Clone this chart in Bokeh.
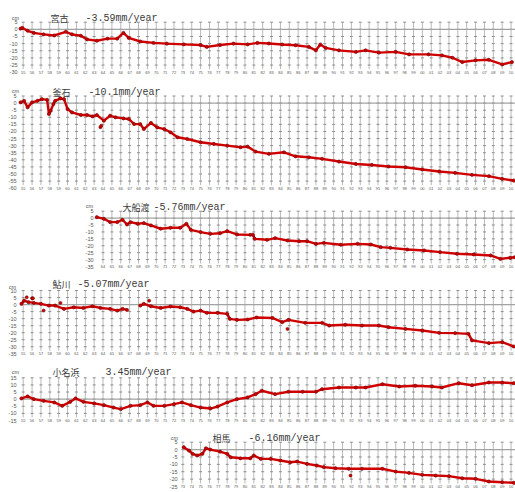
import numpy as np
from bokeh.plotting import figure
from bokeh.models import Range1d
from bokeh.core.properties import value
from bokeh.embed import file_html
from bokeh.resources import INLINE

# ---- mean sea level (cm) at six tide stations on the Sanriku / Fukushima coast ----
YEAR_TICKS = list(range(1955, 2011))
YEAR_LABELS = [f"{y % 100:02d}" for y in YEAR_TICKS]

MIYAKO_YEAR = [1954.7, 1954.9, 1955.5, 1956.2, 1957.3, 1958.5, 1959.8, 1960.5, 1961.5, 1962.2,
               1963.3, 1964.5, 1965.6, 1966.3, 1966.9, 1968.2, 1969.7, 1971.2, 1973.1, 1975.0,
               1975.7, 1977.2, 1978.7, 1980.3, 1981.4, 1982.7, 1984.2, 1985.7, 1987.2, 1988.0,
               1988.5, 1989.1, 1990.6, 1992.5, 1993.6, 1995.1, 1997.0, 1998.5, 2000.7, 2002.2,
               2003.4, 2004.5, 2006.0, 2007.5, 2009.0, 2010.1]
MIYAKO_CM = [0.5, 1.0, -1.0, -2.5, -3.5, -4.3, -1.7, -3.5, -4.5, -7.0,
             -8.0, -6.5, -6.5, -2.5, -6.0, -8.5, -9.5, -10.0, -10.5, -11.0,
             -12.3, -11.0, -10.0, -10.5, -9.5, -9.9, -10.6, -11.1, -12.3, -14.7,
             -10.6, -13.0, -14.7, -15.8, -14.7, -16.3, -15.8, -17.5, -17.5, -18.2,
             -19.9, -22.9, -21.7, -21.3, -24.6, -22.9]
MIYAKO_OUT_YEAR = []
MIYAKO_OUT_CM = []

KAMAISHI_YEAR = [1954.7, 1955.1, 1955.5, 1956.0, 1956.6, 1957.1, 1957.7, 1957.9, 1958.1, 1958.4,
                 1958.6, 1959.2, 1959.6, 1960.0, 1960.5, 1961.5, 1962.2, 1962.8, 1963.3, 1964.1,
                 1964.8, 1965.4, 1966.3, 1966.9, 1967.5, 1968.2, 1968.6, 1969.4, 1970.1, 1970.9,
                 1971.6, 1972.4, 1973.5, 1975.0, 1976.5, 1978.0, 1979.5, 1980.3, 1981.2, 1982.7,
                 1984.4, 1985.7, 1987.2, 1988.7, 1990.6, 1992.5, 1994.3, 1996.2, 1998.1, 2000.0,
                 2001.9, 2003.7, 2005.6, 2007.5, 2009.0, 2010.3]
KAMAISHI_CM = [0.5, 1.6, -3.0, 0.5, 1.6, 2.8, 2.3, -7.7, -5.4, -0.7,
               1.6, 3.3, 2.8, -4.2, -6.6, -8.4, -8.4, -9.4, -8.4, -12.4,
               -8.9, -10.0, -10.8, -11.2, -14.8, -14.8, -18.3, -14.0, -17.1, -18.3,
               -20.6, -24.1, -25.3, -27.6, -28.8, -30.0, -31.1, -30.7, -34.2, -35.8,
               -34.7, -37.5, -38.2, -39.3, -41.2, -42.9, -43.6, -44.7, -45.2, -46.8,
               -48.2, -49.2, -50.6, -51.5, -53.4, -54.6]
KAMAISHI_OUT_YEAR = [1963.7, 1963.8]
KAMAISHI_OUT_CM = [-17.0, -16.0]

OFUNATO_YEAR = [1963.3, 1964.1, 1964.8, 1965.6, 1966.2, 1966.7, 1967.1, 1967.9, 1968.6, 1969.4,
                1970.5, 1971.6, 1972.7, 1973.4, 1973.9, 1975.0, 1976.1, 1977.2, 1978.0, 1979.1,
                1980.6, 1980.9, 1981.1, 1982.5, 1983.4, 1984.8, 1986.1, 1987.0, 1988.0, 1988.9,
                1990.8, 1992.7, 1994.2, 1995.3, 1996.4, 1998.3, 2000.2, 2002.0, 2003.9, 2005.8,
                2007.7, 2008.8, 2009.9, 2010.4]
OFUNATO_CM = [0.7, -0.5, -2.9, -2.9, -1.2, -4.6, -2.9, -4.1, -3.6, -5.3,
              -7.7, -7.0, -7.0, -4.1, -8.5, -10.1, -11.4, -10.9, -9.4, -11.8,
              -12.1, -12.1, -15.0, -15.7, -14.5, -16.2, -16.7, -16.7, -18.6, -17.9,
              -19.3, -18.6, -19.1, -21.0, -21.5, -22.7, -23.4, -24.6, -25.8, -26.3,
              -27.0, -29.5, -28.7, -28.3]
OFUNATO_OUT_YEAR = []
OFUNATO_OUT_CM = []

AYUKAWA_YEAR = [1954.8, 1955.1, 1955.6, 1956.2, 1957.0, 1957.9, 1958.6, 1959.6, 1960.7, 1961.8,
                1962.8, 1963.7, 1964.8, 1965.6, 1966.2, 1966.7, 1967.4, 1968.2, 1968.6, 1969.4,
                1970.5, 1971.6, 1972.7, 1973.5, 1974.2, 1975.0, 1975.7, 1976.9, 1978.0, 1978.3,
                1979.1, 1980.3, 1981.3, 1983.1, 1984.2, 1984.9, 1986.8, 1988.7, 1989.5, 1991.3,
                1993.2, 1995.1, 1996.2, 1998.1, 2000.0, 2001.9, 2003.7, 2005.2, 2005.6, 2007.5,
                2009.0, 2010.3]
AYUKAWA_CM = [0.5, 2.8, 1.7, 1.2, 0.5, -0.7, -0.7, -3.1, -1.9, -2.4,
              -1.2, -2.4, -3.1, -4.3, -3.1, -3.8, float("nan"), -0.7, 0.5, -1.2,
              -2.4, -1.4, -1.9, -3.1, -5.0, -4.3, -5.9, -5.9, -6.6, -10.2,
              -10.9, -10.6, -9.2, -9.5, -12.5, -10.9, -13.0, -13.0, -14.9, -14.4,
              -14.9, -14.9, -16.1, -17.3, -18.4, -20.1, -20.3, -20.8, -25.5, -27.4,
              -26.7, -29.8]
AYUKAWA_OUT_YEAR = [1955.4, 1956.0, 1956.1, 1957.3, 1959.2, 1969.2, 1984.8]
AYUKAWA_OUT_CM = [5.2, 4.5, 4.5, -4.3, 1.2, 2.8, -17.3]

ONAHAMA_YEAR = [1954.8, 1955.5, 1956.2, 1957.3, 1958.5, 1959.4, 1960.3, 1960.9, 1961.8, 1963.0,
                1964.1, 1965.2, 1966.0, 1967.1, 1968.2, 1969.0, 1969.7, 1970.9, 1972.0, 1972.9,
                1973.9, 1975.0, 1976.1, 1976.9, 1978.0, 1979.1, 1980.3, 1981.2, 1981.9, 1983.4,
                1984.9, 1986.5, 1988.0, 1988.7, 1990.6, 1992.5, 1993.6, 1995.5, 1997.4, 1999.2,
                2001.1, 2002.2, 2004.1, 2005.6, 2007.5, 2009.0, 2010.3]
ONAHAMA_CM = [0.5, 1.9, 0.0, -1.2, -2.3, -4.7, -1.9, 0.5, -1.9, -3.0,
              -4.2, -5.9, -7.0, -4.7, -4.2, -2.3, -4.7, -4.7, -3.5, -2.3,
              -4.2, -5.9, -6.6, -5.2, -2.3, 0.0, 1.2, 3.5, 5.9, 3.5,
              5.2, 5.2, 5.2, 7.0, 8.2, 8.2, 8.2, 10.5, 8.9, 9.4,
              8.9, 8.2, 11.2, 9.8, 11.7, 11.7, 11.2]
ONAHAMA_OUT_YEAR = []
ONAHAMA_OUT_CM = []

SOMA_YEAR = [1973.1, 1973.7, 1974.1, 1974.6, 1975.2, 1975.6, 1976.1, 1977.2, 1978.0, 1978.4,
             1979.5, 1980.6, 1981.0, 1981.8, 1982.9, 1984.0, 1985.1, 1985.9, 1987.0, 1988.1,
             1988.9, 1990.2, 1991.7, 1993.2, 1995.5, 1997.0, 1998.5, 2000.0, 2001.5, 2003.0,
             2004.5, 2006.0, 2007.5, 2009.0, 2010.3]
SOMA_CM = [1.6, -0.7, -2.9, -4.0, -2.9, 0.9, 0.0, -1.4, -2.9, -5.2,
           -5.9, -5.9, -4.0, -6.3, -6.3, -7.4, -8.6, -8.1, -9.7, -10.8,
           -11.9, -12.6, -13.0, -13.0, -13.0, -14.9, -15.8, -17.1, -17.6, -18.0,
           -19.4, -19.8, -21.6, -22.1, -22.5]
SOMA_OUT_YEAR = [1991.9]
SOMA_OUT_CM = [-17.6]

# ---- page geometry (pixels) ----
W, H = 515, 492
PX_PER_YEAR = 8.87
X_LEFT = 1955 - 22.7 / PX_PER_YEAR          # year at the left edge of the canvas
X_RIGHT = X_LEFT + W / PX_PER_YEAR

DOT = "#d00000"
DOT_EDGE = "#760000"
TEXT = "#3a3a3a"
AXIS_TEXT = "#555555"
GRID = "#b9b9b9"
CROSS = "#8e8e8e"

# one entry per station: its own vertical scale, stacked down the page
PANELS = [
    dict(key="miyako", name="宮古", rate="-3.59mm/year", years=MIYAKO_YEAR, cms=MIYAKO_CM,
         oy=MIYAKO_OUT_YEAR, oc=MIYAKO_OUT_CM, y_lo=-30, y_hi=5, top=21.7, ppc=50.0 / 35,
         x0=1954.70, lab_px=17, cm_px=(15, 17), name_px=50, rate_px=85, title_py=16),
    dict(key="kamaishi", name="釜石", rate="-10.1mm/year", years=KAMAISHI_YEAR, cms=KAMAISHI_CM,
         oy=KAMAISHI_OUT_YEAR, oc=KAMAISHI_OUT_CM, y_lo=-60, y_hi=5, top=95.5, ppc=92.2 / 65,
         x0=1954.70, lab_px=16, cm_px=(15, 90.5), name_px=52, rate_px=88, title_py=90),
    dict(key="ofunato", name="大船渡", rate="-5.76mm/year", years=OFUNATO_YEAR, cms=OFUNATO_CM,
         oy=OFUNATO_OUT_YEAR, oc=OFUNATO_OUT_CM, y_lo=-35, y_hi=5, top=210.7, ppc=55.3 / 40,
         x0=1963.05, lab_px=93, cm_px=(89, 205), name_px=122, rate_px=153, title_py=205),
    dict(key="ayukawa", name="鮎川", rate="-5.07mm/year", years=AYUKAWA_YEAR, cms=AYUKAWA_CM,
         oy=AYUKAWA_OUT_YEAR, oc=AYUKAWA_OUT_CM, y_lo=-35, y_hi=10, top=290.0, ppc=63.3 / 45,
         x0=1954.70, lab_px=16, cm_px=(12, 286.5), name_px=52, rate_px=77, title_py=282.5),
    dict(key="onahama", name="小名浜", rate="3.45mm/year", years=ONAHAMA_YEAR, cms=ONAHAMA_CM,
         oy=ONAHAMA_OUT_YEAR, oc=ONAHAMA_OUT_CM, y_lo=-15, y_hi=15, top=377.3, ppc=42.7 / 30,
         x0=1954.70, lab_px=16, cm_px=(15, 371), name_px=52, rate_px=105, title_py=370),
    dict(key="soma", name="相馬", rate="-6.16mm/year", years=SOMA_YEAR, cms=SOMA_CM,
         oy=SOMA_OUT_YEAR, oc=SOMA_OUT_CM, y_lo=-25, y_hi=5, top=441.7, ppc=44.3 / 30,
         x0=1972.95, lab_px=177, cm_px=(174, 437.5), name_px=212, rate_px=248, title_py=436),
]

p = figure(width=W, height=H, x_range=Range1d(X_LEFT, X_RIGHT), y_range=Range1d(0, 1),
           x_axis_type=None, y_axis_type=None, min_border=0, title=None,
           output_backend="svg", toolbar_location=None)
p.outline_line_color = None
p.background_fill_color = "white"
p.border_fill_color = "white"


def px_to_year(px):
    return X_LEFT + px / PX_PER_YEAR


for pn in PANELS:
    key, y_lo, y_hi, top, ppc = pn["key"], pn["y_lo"], pn["y_hi"], pn["top"], pn["ppc"]
    # each station gets its own cm scale mapped onto its band of the page
    p.extra_y_ranges[key] = Range1d(y_hi - (H - top) / ppc, y_hi + top / ppc)

    def py_to_cm(py, y_hi=y_hi, top=top, ppc=ppc):
        return y_hi - (py - top) / ppc

    years = [y for y in YEAR_TICKS if y >= pn["x0"]]
    labels = [YEAR_LABELS[YEAR_TICKS.index(y)] for y in years]
    y_ticks = list(range(y_lo, y_hi + 1, 5))

    # yearly grid lines with small cross marks at every 5 cm
    p.segment(x0=years, y0=[y_lo + 3 / ppc] * len(years), x1=years, y1=[y_hi] * len(years),
              line_color=GRID, line_width=1, y_range_name=key)
    cx = [y for y in years for t in y_ticks if t > y_lo]
    cy = [t for y in years for t in y_ticks if t > y_lo]
    p.scatter(cx, cy, marker="dash", size=3, line_color=CROSS, line_width=1, y_range_name=key)

    # zero level
    p.segment(x0=[pn["x0"]], y0=[0], x1=[X_RIGHT], y1=[0], line_color="#a3a3a3",
              line_width=1.2, y_range_name=key)

    # cm tick labels and year labels
    p.text(x=[px_to_year(pn["lab_px"])] * len(y_ticks), y=y_ticks, text=[str(t) for t in y_ticks],
           text_align="right", text_baseline="middle", text_font=value("Liberation Sans"),
           text_font_size="5.5px", text_color=AXIS_TEXT, y_range_name=key)
    p.text(x=years, y=[y_lo] * len(years), text=labels, text_align="center",
           text_baseline="middle", text_font=value("Liberation Sans"), text_font_size="4px",
           text_color=AXIS_TEXT, y_range_name=key)
    p.text(x=[px_to_year(pn["cm_px"][0])], y=[py_to_cm(pn["cm_px"][1])], text=["cm"],
           text_align="center", text_baseline="middle", text_font=value("Liberation Sans"),
           text_font_size="5.5px", text_color=AXIS_TEXT, y_range_name=key)

    # station name and trend, sharing one baseline
    base = py_to_cm(pn["title_py"] + 1.5)
    p.text(x=[px_to_year(pn["name_px"])], y=[base], text=[pn["name"]],
           text_align="left", text_baseline="alphabetic", text_font=value("Noto Sans CJK JP"),
           text_font_size="9px", text_color=TEXT, y_range_name=key)
    p.text(x=[px_to_year(pn["rate_px"])], y=[base], text=[pn["rate"]],
           text_align="left", text_baseline="alphabetic", text_font=value("Liberation Mono"),
           text_font_size="10px", text_color=TEXT, y_range_name=key)

    # sea level series
    xs = np.array(pn["years"], dtype=float)
    ys = np.array(pn["cms"], dtype=float)
    p.line(xs, ys, line_color=DOT, line_width=2.4, y_range_name=key)
    p.scatter(xs, ys, marker="circle", size=3.2, fill_color=DOT, line_color=DOT_EDGE,
              line_width=0.6, y_range_name=key)
    if pn["oy"]:
        p.scatter(np.array(pn["oy"], dtype=float), np.array(pn["oc"], dtype=float),
                  marker="circle", size=3.0, fill_color=DOT, line_color=DOT_EDGE,
                  line_width=0.6, y_range_name=key)

open("out.html", "w").write(file_html(p, INLINE))
